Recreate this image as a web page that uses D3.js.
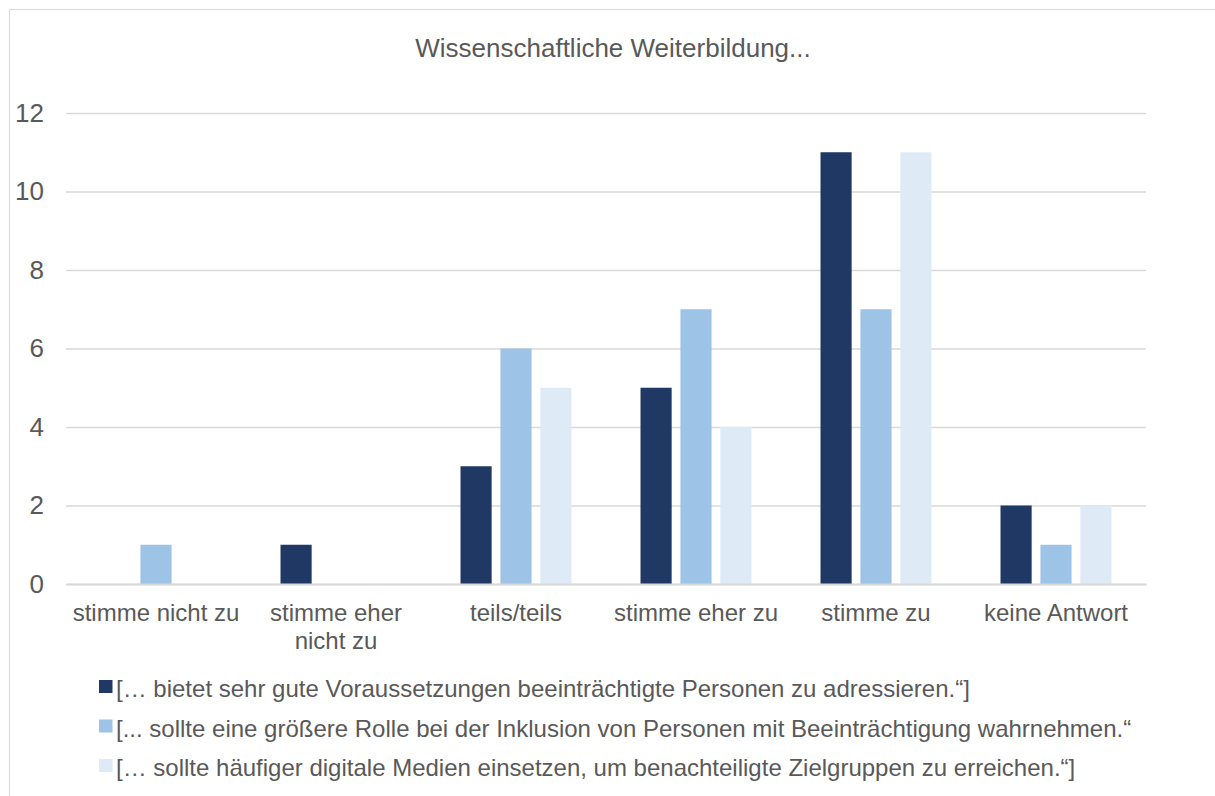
<!DOCTYPE html>
<html><head><meta charset="utf-8">
<script src="https://cdn.jsdelivr.net/npm/d3@7"></script>
<style>body{margin:0;background:#fff}svg{display:block}text{font-family:"Liberation Sans",Arial,sans-serif;fill:#595959}</style>
</head><body><svg id="c" width="1215" height="796"></svg>
<script>
const categories = ["stimme nicht zu", "stimme eher\nnicht zu", "teils/teils", "stimme eher zu", "stimme zu", "keine Antwort"];
const seriesNames = [
  "[… bietet sehr gute Voraussetzungen beeinträchtigte Personen zu adressieren.“]",
  "[... sollte eine größere Rolle bei der Inklusion von Personen mit Beeinträchtigung wahrnehmen.“",
  "[… sollte häufiger digitale Medien einsetzen, um benachteiligte Zielgruppen zu erreichen.“]"
];
const series1 = [0, 1, 3, 5, 11, 2];
const series2 = [1, 0, 6, 7, 7, 1];
const series3 = [0, 0, 5, 4, 11, 2];
const yTicks = [0, 2, 4, 6, 8, 10, 12];
const colors = ["#203864", "#9dc3e6", "#deebf7"];
const title = "Wissenschaftliche Weiterbildung...";

const svg = d3.select("#c");
svg.append("rect").attr("x", 9.5).attr("y", 9.5).attr("width", 1300).attr("height", 900)
  .attr("fill", "#fff").attr("stroke", "#d9d9d9");

const x0 = d3.scaleBand().domain(categories).range([66, 1146]).paddingInner(0).paddingOuter(0);
const y = d3.scaleLinear().domain([0, 12]).range([584, 113]);
const inner = ["s1", "s2", "s3"];
const x1 = d3.scaleBand().domain(inner).range([34.5, 180 - 34.5]).paddingInner(0.22).paddingOuter(0);

svg.append("text").attr("x", 613).attr("y", 57).attr("text-anchor", "middle")
  .style("font-size", "26px").text(title);

const yAxis = d3.axisLeft(y).tickValues(yTicks).tickSize(-(1146 - 66)).tickPadding(20);
const gy = svg.append("g").attr("transform", "translate(66,0)").call(yAxis);
gy.select(".domain").remove();
gy.selectAll(".tick line").attr("stroke", "#d9d9d9").attr("stroke-width", 1.5);
gy.selectAll(".tick text").style("font-size", "26px").attr("fill", "#595959").attr("x", -22);

const data = categories.map((c, i) => ({c, vals: [series1[i], series2[i], series3[i]]}));
const groups = svg.append("g").selectAll("g").data(data).join("g")
  .attr("transform", d => `translate(${x0(d.c)},0)`);
groups.selectAll("rect").data(d => d.vals.map((v, k) => ({k, v}))).join("rect")
  .attr("x", d => x1(inner[d.k])).attr("width", x1.bandwidth())
  .attr("y", d => y(d.v)).attr("height", d => y(0) - y(d.v))
  .attr("fill", d => colors[d.k]);

const xAxis = d3.axisBottom(x0).tickSize(0).tickPadding(0);
const gx = svg.append("g").attr("transform", "translate(0,584)").call(xAxis);
gx.select(".domain").attr("stroke", "#d9d9d9").attr("stroke-width", 2);
gx.selectAll(".tick text").each(function(d) {
  const t = d3.select(this).text("").attr("y", 0).attr("dy", 0).style("font-size", "24px");
  d.split("\n").forEach((line, i) => t.append("tspan").attr("x", 0).attr("y", 37 + i * 28).text(line));
});

const leg = svg.append("g").selectAll("g").data(seriesNames).join("g")
  .attr("transform", (d, i) => `translate(99,${697 + i * 39.5})`);
leg.append("rect").attr("x", 0).attr("y", -17).attr("width", 13.5).attr("height", 13).attr("fill", (d, i) => colors[i]);
leg.append("text").attr("x", 17).attr("y", 0).style("font-size", "24px").text(d => d);
</script></body></html>
